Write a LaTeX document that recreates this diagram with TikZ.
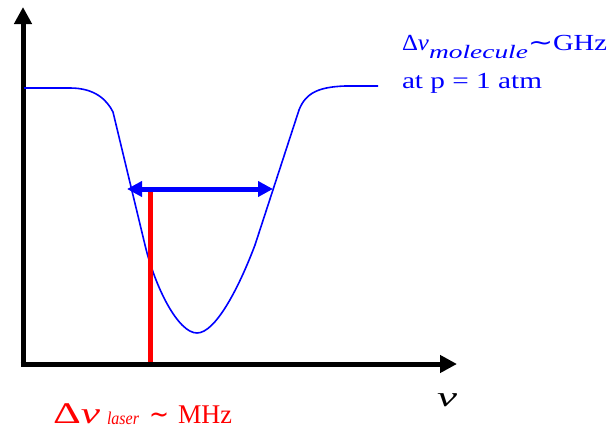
\documentclass[tikz,border=0pt]{standalone}
\usepackage{fontspec}
\setmainfont{Liberation Serif}
\newfontfamily\symfont{DejaVu Sans}
\usetikzlibrary{arrows.meta}
\newcommand{\fitw}[2]{\resizebox{#1}{\height}{#2}}
\tikzset{
  axis/.style={line width=5pt, -{Triangle[length=17pt,width=17pt]}},
  profile/.style={blue, line width=1.6pt, line join=round},
  widtharrow/.style={blue, line width=5pt, {Triangle[length=15pt,width=15pt]}-{Triangle[length=15pt,width=15pt]}},
  laserline/.style={red, line width=5pt},
  lbl/.style={inner sep=0pt, outer sep=0pt}
}
\begin{document}
\begin{tikzpicture}[x=1pt,y=-1pt]
\useasboundingbox (0,0) rectangle (611,429);
% axes
\coordinate (O) at (23,364);
\coordinate (ytip) at (23,7);
\coordinate (xtip) at (457,364);
\draw[axis] (O) ++(0,2.5) -- (ytip);
\draw[axis] (O) ++(-2.5,0) -- (xtip);
% absorption profile
\draw[profile] (24,88) -- (70,88) .. controls (95,88) and (107,100) .. (113,112)
  -- (145,245) .. controls (155,287) and (178,333) .. (197,333)
  .. controls (215,333) and (238,290) .. (255,245)
  -- (299,110) .. controls (306,92) and (320,87) .. (345,86) -- (378,86);
% laser line and width arrow
\coordinate (lasertop) at (150,190);
\coordinate (laserbot) at (150,362);
\draw[laserline] (laserbot) -- (lasertop);
\coordinate (wl) at (127,189);
\coordinate (wr) at (273,189);
\draw[widtharrow] (wl) -- (wr);
% labels
\node[lbl, anchor=base west, text=blue] (mol) at (402,50)
  {\fontsize{23}{28}\selectfont\fitw{27pt}{Δ\textit{ν}}\raisebox{-8pt}{\fitw{99pt}{\fontsize{19}{22}\selectfont\itshape molecule}}\fitw{25pt}{\symfont ∼}\fitw{54pt}{GHz}};
\node[lbl, anchor=base west, text=blue] (atm) at (402,88)
  {\fontsize{23}{28}\selectfont\fitw{140pt}{at p = 1 atm}};
\node[lbl, anchor=base west, text=red] (las) at (53,423)
  {\fontsize{27}{32}\selectfont\fitw{47pt}{\fontsize{30}{34}\selectfont Δ\textit{ν}}\hspace{7pt}\raisebox{-1pt}{\fitw{32pt}{\fontsize{18}{21}\selectfont\itshape laser}}\hspace{10pt}\fitw{20pt}{\symfont ∼}\hspace{9pt}\fitw{54pt}{MHz}};
\node[lbl] (nu) at (447,400) {\fontsize{28}{32}\selectfont\fitw{20pt}{\itshape ν}};
\end{tikzpicture}
\end{document}
